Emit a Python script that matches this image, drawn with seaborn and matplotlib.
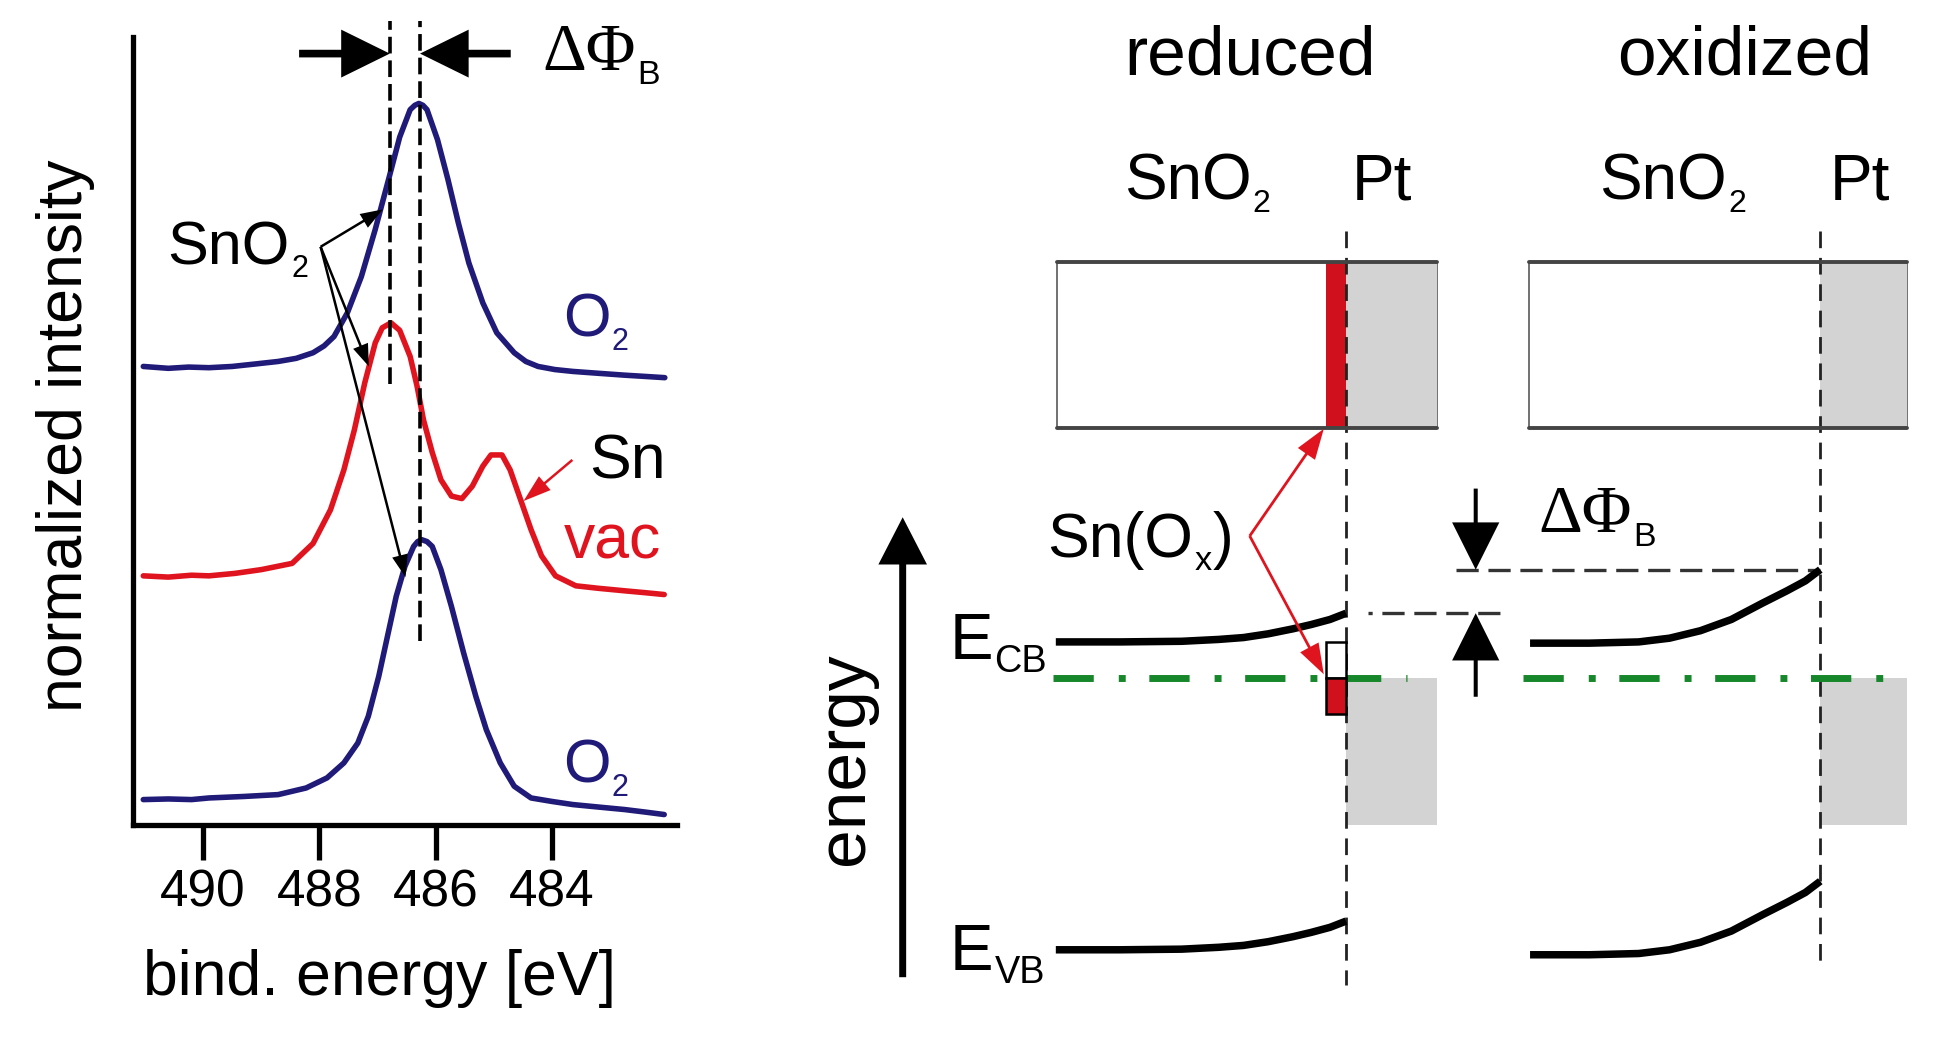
import pandas as pd
import seaborn as sns
import matplotlib.pyplot as plt
from matplotlib.patches import Rectangle

# XPS spectra: binding energy [eV] vs normalized intensity (traces offset)
o2_top_energy = [491.03, 490.60, 490.25, 489.90, 489.50, 489.10, 488.71, 488.40, 488.11, 487.92,
                 487.75, 487.52, 487.28, 487.04, 486.80, 486.62, 486.44, 486.36, 486.29, 486.22,
                 486.15, 485.97, 485.79, 485.61, 485.43, 485.19, 484.95, 484.65, 484.45, 484.24,
                 483.95, 483.64, 483.20, 482.75, 482.40, 482.06]
o2_top_intensity = [3.68, 3.665, 3.675, 3.67, 3.68, 3.70, 3.72, 3.745, 3.79, 3.845,
                    3.92, 4.11, 4.40, 4.78, 5.20, 5.52, 5.74, 5.775, 5.79, 5.775,
                    5.74, 5.50, 5.18, 4.83, 4.51, 4.19, 3.95, 3.79, 3.72, 3.68,
                    3.655, 3.64, 3.625, 3.61, 3.60, 3.59]

vac_energy = [491.03, 490.60, 490.20, 489.90, 489.45, 489.00, 488.47, 488.11, 487.81, 487.58,
              487.40, 487.22, 487.04, 486.92, 486.77, 486.62, 486.44, 486.32, 486.21, 486.06,
              485.91, 485.73, 485.55, 485.37, 485.19, 485.05, 484.86, 484.72, 484.54, 484.36,
              484.18, 483.94, 483.59, 483.20, 482.75, 482.40, 482.07]
vac_intensity = [2.00, 1.99, 2.005, 2.00, 2.02, 2.05, 2.10, 2.26, 2.53, 2.85,
                 3.17, 3.55, 3.87, 3.99, 4.03, 3.97, 3.76, 3.52, 3.25, 2.99,
                 2.77, 2.64, 2.62, 2.72, 2.88, 2.97, 2.97, 2.85, 2.61, 2.37,
                 2.16, 2.00, 1.92, 1.90, 1.88, 1.865, 1.85]

o2_bottom_energy = [491.03, 490.60, 490.20, 489.90, 489.30, 488.71, 488.23, 487.87, 487.58, 487.34,
                    487.16, 486.98, 486.83, 486.68, 486.53, 486.38, 486.31, 486.24, 486.15, 486.06,
                    485.91, 485.73, 485.52, 485.31, 485.13, 484.89, 484.65, 484.36, 484.00, 483.64,
                    483.20, 482.75, 482.40, 482.07]
o2_bottom_intensity = [0.205, 0.21, 0.205, 0.218, 0.23, 0.245, 0.298, 0.379, 0.499, 0.659,
                       0.873, 1.194, 1.515, 1.835, 2.076, 2.236, 2.275, 2.29, 2.275, 2.236,
                       2.049, 1.755, 1.381, 1.033, 0.766, 0.499, 0.312, 0.218, 0.19, 0.165,
                       0.145, 0.125, 0.105, 0.085]

energy_ticks = [490, 488, 486, 484]
peak_energy = [486.79, 486.27]          # dashed peak markers
peak_line_bottom = [3.54, 1.48]
peak_line_top = 6.45

# band diagram: lateral position (a.u.) vs energy relative to E_F (a.u.)
cb_red_x = [848, 900, 950, 980, 1000, 1020, 1040, 1055, 1070, 1083]
cb_red_e = [0.29, 0.29, 0.295, 0.31, 0.325, 0.355, 0.395, 0.43, 0.47, 0.52]
vb_red_e = [-2.18, -2.18, -2.175, -2.16, -2.145, -2.115, -2.075, -2.04, -2.00, -1.95]
cb_ox_x = [1232, 1280, 1320, 1345, 1370, 1395, 1420, 1440, 1455, 1467]
cb_ox_e = [0.28, 0.28, 0.29, 0.32, 0.38, 0.47, 0.60, 0.70, 0.78, 0.87]
vb_ox_e = [-2.22, -2.22, -2.21, -2.18, -2.12, -2.03, -1.90, -1.80, -1.72, -1.63]
interface_x = [1083, 1467]
layer_box_x = [(849, 1157), (1231, 1537)]
layer_box_e = (2.01, 3.34)
fermi_x = [(846, 1132), (1226, 1522)]
pt_band_e = (-1.18, 0.0)
sn_states_e = (-0.29, 0.29)

navy = '#201a78'
red = '#e0141e'
green = '#17872b'
grey = '#d3d3d3'

sns.set_style("ticks")
plt.rcParams['font.family'] = ['Liberation Sans', 'DejaVu Sans']
plt.rcParams['lines.scale_dashes'] = False
plt.rcParams['text.color'] = 'black'
plt.rcParams['axes.labelcolor'] = 'black'
plt.rcParams['xtick.color'] = 'black'
serif = ['Liberation Serif', 'DejaVu Serif']


def arrow(ax, tail, tip, color='k', hl=3.5, hw=3.4, tw=0.5):
    ax.annotate('', xy=tip, xytext=tail, annotation_clip=False,
                arrowprops=dict(arrowstyle='simple,head_length={},head_width={},tail_width={}'.format(hl, hw, tw),
                                mutation_scale=10, fc=color, ec='none', lw=0, shrinkA=0, shrinkB=0))


def sub_text(ax, x, y, main, sub, size, color='k', ratio=0.5, after='', family=None, sub_family=None):
    kw = {'family': family} if family else {}
    skw = {'family': sub_family} if sub_family else {}
    t = ax.text(x, y, main, fontsize=size, color=color, ha='left', va='baseline', **kw)
    s = ax.annotate(sub, xy=(1, 0), xycoords=t, xytext=(1, 0), textcoords='offset points',
                    fontsize=size * ratio, color=color, ha='left', va='baseline', **skw)
    if after:
        ax.annotate(after, xy=(1, 0), xycoords=(s, t), xytext=(1, 0), textcoords='offset points',
                    fontsize=size, color=color, ha='left', va='bottom', **kw)


fig = plt.figure(figsize=(19.45, 10.47), dpi=100)

# ---------------- left: spectra ----------------
ax = fig.add_axes([107 / 1560, 178 / 840, 436 / 1560, 632 / 840])
spectra = pd.concat([
    pd.DataFrame({'energy': o2_top_energy, 'intensity': o2_top_intensity, 'trace': 'O2 top'}),
    pd.DataFrame({'energy': vac_energy, 'intensity': vac_intensity, 'trace': 'vac'}),
    pd.DataFrame({'energy': o2_bottom_energy, 'intensity': o2_bottom_intensity, 'trace': 'O2 bottom'}),
])
sns.lineplot(data=spectra, x='energy', y='intensity', hue='trace', estimator=None, sort=False,
             palette={'O2 top': navy, 'vac': red, 'O2 bottom': navy}, linewidth=4.0, legend=False, ax=ax)

ax.set_xlim(491.2, 481.85)
ax.set_ylim(0, 6.32)
ax.set_xticks(energy_ticks)
ax.set_yticks([])
sns.despine(ax=ax)
for sp in ['left', 'bottom']:
    ax.spines[sp].set_linewidth(3.8)
    ax.spines[sp].set_color('k')
ax.tick_params(axis='x', bottom=True, direction='out', length=25, width=3.8, labelsize=37, pad=6)
ax.set_xlabel('bind. energy [eV]', fontsize=45)
ax.xaxis.set_label_coords(0.452, -0.157)
ax.set_ylabel('normalized intensity', fontsize=45)
ax.yaxis.set_label_coords(-0.071, 0.494)

for e, bottom in zip(peak_energy, peak_line_bottom):
    ax.plot([e, e], [bottom, peak_line_top], color='k', lw=2.6, ls=(0, (12, 5)), clip_on=False)

arrow(ax, (488.35, 6.19), (peak_energy[0], 6.19), hl=3.5, hw=3.45, tw=0.55)
arrow(ax, (484.71, 6.19), (peak_energy[1], 6.19), hl=3.5, hw=3.45, tw=0.55)
sub_text(ax, 484.16, 6.06, '\u0394\u03a6', 'B', 49, ratio=0.5, family=serif, sub_family='Liberation Sans')

sub_text(ax, 490.61, 4.50, 'SnO', '2', 44)
for tip in [(486.91, 4.94), (487.15, 3.68), (486.52, 1.99)]:
    arrow(ax, (487.98, 4.64), tip, hl=1.6, hw=1.15, tw=0.18)

sub_text(ax, 483.81, 3.92, 'O', '2', 44, color=navy)
sub_text(ax, 483.81, 0.34, 'O', '2', 44, color=navy)
ax.text(483.36, 2.78, 'Sn', fontsize=45, ha='left', va='baseline')
ax.text(483.80, 2.14, 'vac', fontsize=45, color=red, ha='left', va='baseline')
arrow(ax, (483.65, 2.93), (484.49, 2.60), color=red, hl=2.0, hw=1.3, tw=0.18)

# ---------------- right: band diagram ----------------
bx = fig.add_axes([620 / 1560, 0, 940 / 1560, 1])
bx.set_xlim(619, 1568)
bx.set_ylim(-2.96, 5.44)
bx.axis('off')

bx.text(1005, 4.84, 'reduced', fontsize=50, ha='center', va='baseline')
bx.text(1406, 4.84, 'oxidized', fontsize=50, ha='center', va='baseline')
sub_text(bx, 903, 3.84, 'SnO', '2', 46)
bx.text(1088, 3.84, 'Pt', fontsize=46, ha='left', va='baseline')
sub_text(bx, 1288, 3.84, 'SnO', '2', 46)
bx.text(1475, 3.84, 'Pt', fontsize=46, ha='left', va='baseline')

e0, e1 = layer_box_e
for (x0, x1), xi in zip(layer_box_x, interface_x):
    bx.add_patch(Rectangle((x0, e0), x1 - x0, e1 - e0, fc='white', ec='#666666', lw=1.3, zorder=1))
    bx.add_patch(Rectangle((xi, e0), x1 - xi, e1 - e0, fc=grey, ec='none', zorder=1.5))
    bx.plot([x0, x1], [e0, e0], color='#444444', lw=2.8, zorder=3)
    bx.plot([x0, x1], [e1, e1], color='#444444', lw=2.8, zorder=3)
    # Pt metal, filled up to E_F
    bx.add_patch(Rectangle((xi, pt_band_e[0]), x1 - xi, pt_band_e[1] - pt_band_e[0], fc=grey, ec='none', zorder=1))
bx.add_patch(Rectangle((interface_x[0] - 16, e0), 16, e1 - e0, fc='#d0101c', ec='none', zorder=2))

bx.plot([interface_x[0]] * 2, [3.59, -2.46], color='#222222', lw=2.0, ls=(0, (12, 7)), zorder=2)
bx.plot([interface_x[1]] * 2, [3.59, -2.31], color='#222222', lw=2.0, ls=(0, (12, 7)), zorder=2)

for xs, xe in fermi_x:
    bx.plot([xs, xe], [0, 0], color=green, lw=5.0, ls=(0, (29, 18, 5, 17)), dash_capstyle='butt', zorder=2)

for xs, es in [(cb_red_x, cb_red_e), (cb_red_x, vb_red_e), (cb_ox_x, cb_ox_e), (cb_ox_x, vb_ox_e)]:
    bx.plot(xs, es, color='k', lw=5.4, solid_capstyle='butt', zorder=3)

# Sn interface states around E_F
bx.add_patch(Rectangle((interface_x[0] - 16, 0), 16, sn_states_e[1], fc='white', ec='k', lw=1.8, zorder=4))
bx.add_patch(Rectangle((interface_x[0] - 16, sn_states_e[0]), 16, -sn_states_e[0], fc='#d0101c', ec='k', lw=1.8, zorder=4))

arrow(bx, (724, -2.40), (724, 1.29), hl=3.4, hw=3.5, tw=0.5)
bx.text(677, -0.65, 'energy', fontsize=50, rotation=90, ha='center', va='center')
sub_text(bx, 762, 0.15, 'E', 'CB', 47, ratio=0.58)
sub_text(bx, 762, -2.34, 'E', 'VB', 47, ratio=0.58)

sub_text(bx, 841, 0.97, 'Sn(O', 'x', 45, ratio=0.55, after=')')
arrow(bx, (1005, 1.14), (1065, 2.0), color=red, hl=2.2, hw=1.5, tw=0.2)
arrow(bx, (1005, 1.14), (1065, 0.03), color=red, hl=2.2, hw=1.5, tw=0.2)

# barrier height change
bx.plot([1172, interface_x[1]], [cb_ox_e[-1]] * 2, color='#333333', lw=2.4, ls=(0, (16, 7)), zorder=2)
bx.plot([1101, 1208], [cb_red_e[-1]] * 2, color='#333333', lw=2.4, ls=(13, (16, 7)), zorder=2)
arrow(bx, (1188, 1.52), (1188, cb_ox_e[-1]), hl=3.4, hw=3.4, tw=0.29)
arrow(bx, (1188, -0.15), (1188, cb_red_e[-1]), hl=3.4, hw=3.4, tw=0.29)
sub_text(bx, 1239, 1.17, '\u0394\u03a6', 'B', 49, ratio=0.5, family=serif, sub_family='Liberation Sans')

plt.savefig('out.png', dpi=100, facecolor='white')
